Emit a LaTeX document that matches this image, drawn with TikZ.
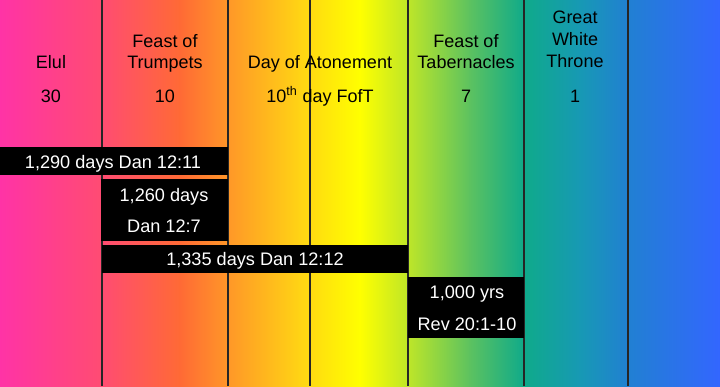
\documentclass[tikz,border=0pt]{standalone}
\usepackage{fontspec}
\setmainfont{Liberation Sans}
\definecolor{c0}{HTML}{FF33A6}
\definecolor{c1}{HTML}{FF4C72}
\definecolor{c2}{HTML}{FF6A35}
\definecolor{c3}{HTML}{FF9728}
\definecolor{c4}{HTML}{FFD414}
\definecolor{c5}{HTML}{FFFF00}
\definecolor{c6}{HTML}{BEE628}
\definecolor{c7}{HTML}{5CC260}
\definecolor{c8}{HTML}{0FAA8A}
\definecolor{c9}{HTML}{1799B4}
\definecolor{c10}{HTML}{2180D2}
\definecolor{c11}{HTML}{3366FF}
\tikzset{
  head/.style={anchor=base, inner sep=0pt, font=\fontsize{13.5}{16}\selectfont, text=black},
  boxtext/.style={anchor=base, inner sep=0pt, font=\fontsize{13.6}{16}\selectfont, text=white},
  blackbox/.style={fill=black},
  divider/.style={draw=black!85, line width=0.8pt}
}
\begin{document}
\begin{tikzpicture}[x=0.75pt,y=-0.75pt]
\useasboundingbox (0,0) rectangle (720,386);
% background gradient
\foreach \xa/\xb/\ca/\cb in {0/102/c0/c1,102/180/c1/c2,180/228/c2/c3,228/300/c3/c4,300/360/c4/c5,360/408/c5/c6,408/470/c6/c7,470/524/c7/c8,524/580/c8/c9,580/628/c9/c10,628/720/c10/c11}
  \shade[left color=\ca, right color=\cb] (\xa-0.3,-1) rectangle (\xb+0.3,387);
% dividers
\foreach \x/\n in {102/a,228/b,310/c,408/d,524/e,628/f}{
  \coordinate (top\n) at (\x,0);
  \coordinate (bot\n) at (\x,386);
  \draw[divider] (top\n) -- (bot\n);
}
% headers
\node[head] (elul) at (51,68) {Elul};
\node[head] (elulN) at (51,102) {30};
\node[head] (fot1) at (165,47) {Feast of};
\node[head] (fot2) at (165,68) {Trumpets};
\node[head] (fotN) at (165,102) {10};
\node[head] (doa) at (320,68) {Day of Atonement};
\node[head] (doaN) at (320,102) {10\textsuperscript{th} day FofT};
\node[head] (fotab1) at (466,47) {Feast of};
\node[head] (fotab2) at (466,68) {Tabernacles};
\node[head] (fotabN) at (466,102) {7};
\node[head] (gwt1) at (575,23) {Great};
\node[head] (gwt2) at (575,45) {White};
\node[head] (gwt3) at (575,67) {Throne};
\node[head] (gwtN) at (575,102) {1};
% black boxes
\fill[blackbox] (0,147) rectangle (228,175);
\node[boxtext] (b1) at (113,168) {1,290 days Dan 12:11};
\fill[blackbox] (101,179) rectangle (228,241);
\node[boxtext] (b2a) at (164,201) {1,260 days};
\node[boxtext] (b2b) at (164,232) {Dan 12:7};
\fill[blackbox] (102,245) rectangle (408,273);
\node[boxtext] (b3) at (255,265) {1,335 days Dan 12:12};
\fill[blackbox] (408,277) rectangle (524,338);
\node[boxtext] (b4a) at (467,298) {1,000 yrs};
\node[boxtext] (b4b) at (467,330) {Rev 20:1-10};
\end{tikzpicture}
\end{document}
